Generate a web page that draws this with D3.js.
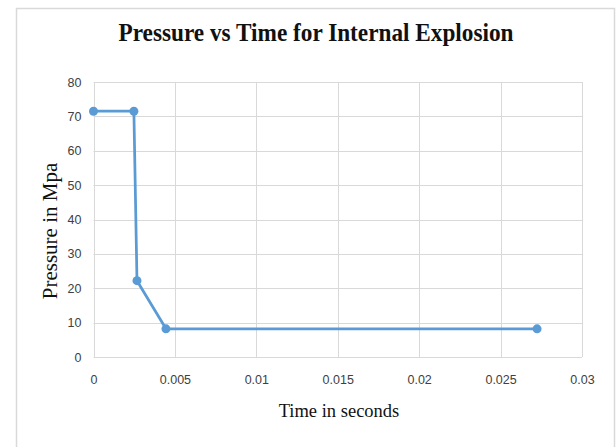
<!DOCTYPE html>
<html>
<head>
<meta charset="utf-8">
<script src="https://cdn.jsdelivr.net/npm/d3@7"></script>
<style>
  body { margin: 0; background: #fff; }
  svg { display: block; }
</style>
</head>
<body>
<svg id="chart" width="616" height="447"></svg>
<script>
// data
const times = [0, 0.00248, 0.00267, 0.00445, 0.02724];
const pressures = [71.5, 71.5, 22.2, 8.2, 8.2];
const xTicks = [0, 0.005, 0.01, 0.015, 0.02, 0.025, 0.03];
const yTicks = [0, 10, 20, 30, 40, 50, 60, 70, 80];

const svg = d3.select('#chart');
const margin = {left: 93.5, right: 582, top: 82, bottom: 357};

const x = d3.scaleLinear().domain([0, 0.03]).range([margin.left, margin.right]);
const y = d3.scaleLinear().domain([0, 80]).range([margin.bottom, margin.top]);

// chart frame
svg.append('rect')
    .attr('x', 16.5).attr('y', 8.5)
    .attr('width', 598).attr('height', 460)
    .attr('fill', 'none')
    .attr('stroke', '#d9d9d9')
    .attr('stroke-width', 1.5);

svg.append('text')
    .attr('x', 316).attr('y', 41)
    .attr('text-anchor', 'middle')
    .attr('font-family', 'Liberation Serif, Times New Roman, serif')
    .attr('font-weight', 'bold')
    .attr('font-size', 26)
    .attr('textLength', 395)
    .attr('lengthAdjust', 'spacingAndGlyphs')
    .attr('fill', '#111')
    .text('Pressure vs Time for Internal Explosion');

// gridlines
const grid = svg.append('g').attr('stroke', '#d9d9d9').attr('stroke-width', 1);
grid.selectAll('.h').data(yTicks).enter().append('line')
    .attr('x1', margin.left).attr('x2', margin.right)
    .attr('y1', d => Math.round(y(d)) + 0.5).attr('y2', d => Math.round(y(d)) + 0.5);
grid.selectAll('.v').data(xTicks).enter().append('line')
    .attr('y1', margin.top).attr('y2', margin.bottom)
    .attr('x1', d => Math.round(x(d)) + 0.5).attr('x2', d => Math.round(x(d)) + 0.5);

// tick labels via d3 axes
const yAxis = svg.append('g')
    .attr('transform', 'translate(' + (margin.left - 12) + ',0)')
    .call(d3.axisLeft(y).tickValues(yTicks).tickSize(0).tickPadding(0));
const xAxis = svg.append('g')
    .attr('transform', 'translate(0,' + (margin.bottom + 18) + ')')
    .call(d3.axisBottom(x).tickValues(xTicks).tickSize(0).tickPadding(0).tickFormat(d => String(+d.toFixed(3))));
[xAxis, yAxis].forEach(a => {
  a.select('.domain').remove();
  a.selectAll('text')
      .attr('font-family', 'Liberation Sans, Arial, sans-serif')
      .attr('font-size', 12.5)
      .attr('fill', '#404040');
});

// series
const pts = times.map((t, i) => ({t: t, p: pressures[i]}));
const line = d3.line().x(d => x(d.t)).y(d => y(d.p));
svg.append('path')
    .datum(pts)
    .attr('d', line)
    .attr('fill', 'none')
    .attr('stroke', '#5b9bd5')
    .attr('stroke-width', 2.75)
    .attr('stroke-linejoin', 'round');
svg.append('g').selectAll('circle')
    .data(pts).enter().append('circle')
    .attr('cx', d => x(d.t)).attr('cy', d => y(d.p))
    .attr('r', 4.5)
    .attr('fill', '#5b9bd5');

// axis titles
svg.append('text')
    .attr('x', 339).attr('y', 417)
    .attr('text-anchor', 'middle')
    .attr('font-family', 'Liberation Serif, Times New Roman, serif')
    .attr('font-size', 18.5)
    .attr('fill', '#111')
    .text('Time in seconds');
svg.append('text')
    .attr('transform', 'translate(57,231) rotate(-90)')
    .attr('text-anchor', 'middle')
    .attr('font-family', 'Liberation Serif, Times New Roman, serif')
    .attr('font-size', 21)
    .attr('fill', '#111')
    .text('Pressure in Mpa');
</script>
</body>
</html>
